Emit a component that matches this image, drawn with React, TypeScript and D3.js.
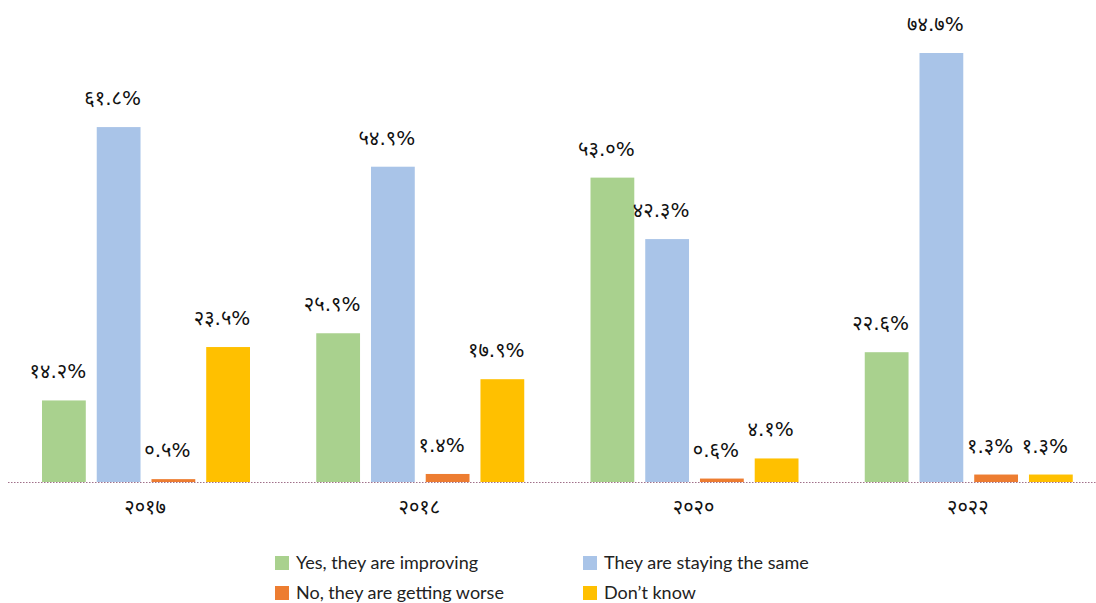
import React, { useEffect, useRef } from 'react';
import * as d3 from 'd3';

const years = ['२०१७', '२०१८', '२०२०', '२०२२'];
const seriesNames = ['Yes, they are improving', 'They are staying the same', 'No, they are getting worse', "Don’t know"];
const seriesColors = ['#A9D18E', '#A9C4E8', '#ED7D31', '#FFC000'];
const improving = [14.2, 25.9, 53.0, 22.6];
const same = [61.8, 54.9, 42.3, 74.7];
const worse = [0.5, 1.4, 0.6, 1.3];
const dontKnow = [23.5, 17.9, 4.1, 1.3];

const devDigits = '०१२३४५६७८९';
const toDev = (s: string) => s.replace(/[0-9]/g, d => devDigits[+d]);

const W = 1096;
const H = 603;

const App: React.FC = () => {
  const svgRef = useRef<SVGSVGElement>(null);

  useEffect(() => {
    if (!svgRef.current) return;
    const svg = d3.select(svgRef.current);
    svg.selectAll('*').remove();

    const series = [improving, same, worse, dontKnow];
    const baseY = 482;

    const x0 = d3.scaleBand<string>().domain(years).range([8, 1105]).paddingInner(0).paddingOuter(0);
    const x1 = d3.scaleBand<number>().domain([0, 1, 2, 3]).range([34, 242]).paddingInner(0.2);
    const y = d3.scaleLinear().domain([0, 74.7]).range([baseY, 53]);

    const g = svg.append('g');

    years.forEach((yr, i) => {
      const gx = x0(yr)!;
      series.forEach((vals, s) => {
        const v = vals[i];
        const bx = gx + x1(s)!;
        g.append('rect')
          .attr('x', bx).attr('y', y(v))
          .attr('width', x1.bandwidth()).attr('height', baseY - y(v))
          .attr('fill', seriesColors[s]);
        g.append('text')
          .attr('x', bx + x1.bandwidth() / 2 - 6).attr('y', y(v) - 22)
          .attr('text-anchor', 'middle')
          .attr('font-family', 'DejaVu Sans, Noto Sans, sans-serif')
          .attr('font-size', 20).attr('fill', '#111')
          .text(toDev(v.toFixed(1)) + '%');
      });
      g.append('text')
        .attr('x', gx + x0.bandwidth() / 2).attr('y', 514)
        .attr('text-anchor', 'middle')
        .attr('font-family', 'DejaVu Sans, Noto Sans, sans-serif')
        .attr('font-size', 20).attr('fill', '#111')
        .text(yr);
    });

    // baseline
    g.append('line')
      .attr('x1', 8).attr('x2', W).attr('y1', baseY + 0.5).attr('y2', baseY + 0.5)
      .attr('stroke', '#A0708A').attr('stroke-width', 1).attr('stroke-dasharray', '1.5,1.5');

    // legend
    const legX = [275, 583];
    const legY = [563, 593];
    seriesNames.forEach((name, s) => {
      const lx = legX[s % 2];
      const ly = legY[Math.floor(s / 2)];
      g.append('rect').attr('x', lx).attr('y', ly - 7).attr('width', 14).attr('height', 14).attr('fill', seriesColors[s]);
      g.append('text')
        .attr('x', lx + 21).attr('y', ly + 6)
        .attr('font-family', 'Lato, Open Sans, sans-serif')
        .attr('font-size', 18).attr('fill', '#222')
        .text(name);
    });
  }, []);

  return (
    <svg ref={svgRef} width={W} height={H} style={{ position: 'absolute', left: 0, top: 0, background: '#fff' }} />
  );
};

export default App;
